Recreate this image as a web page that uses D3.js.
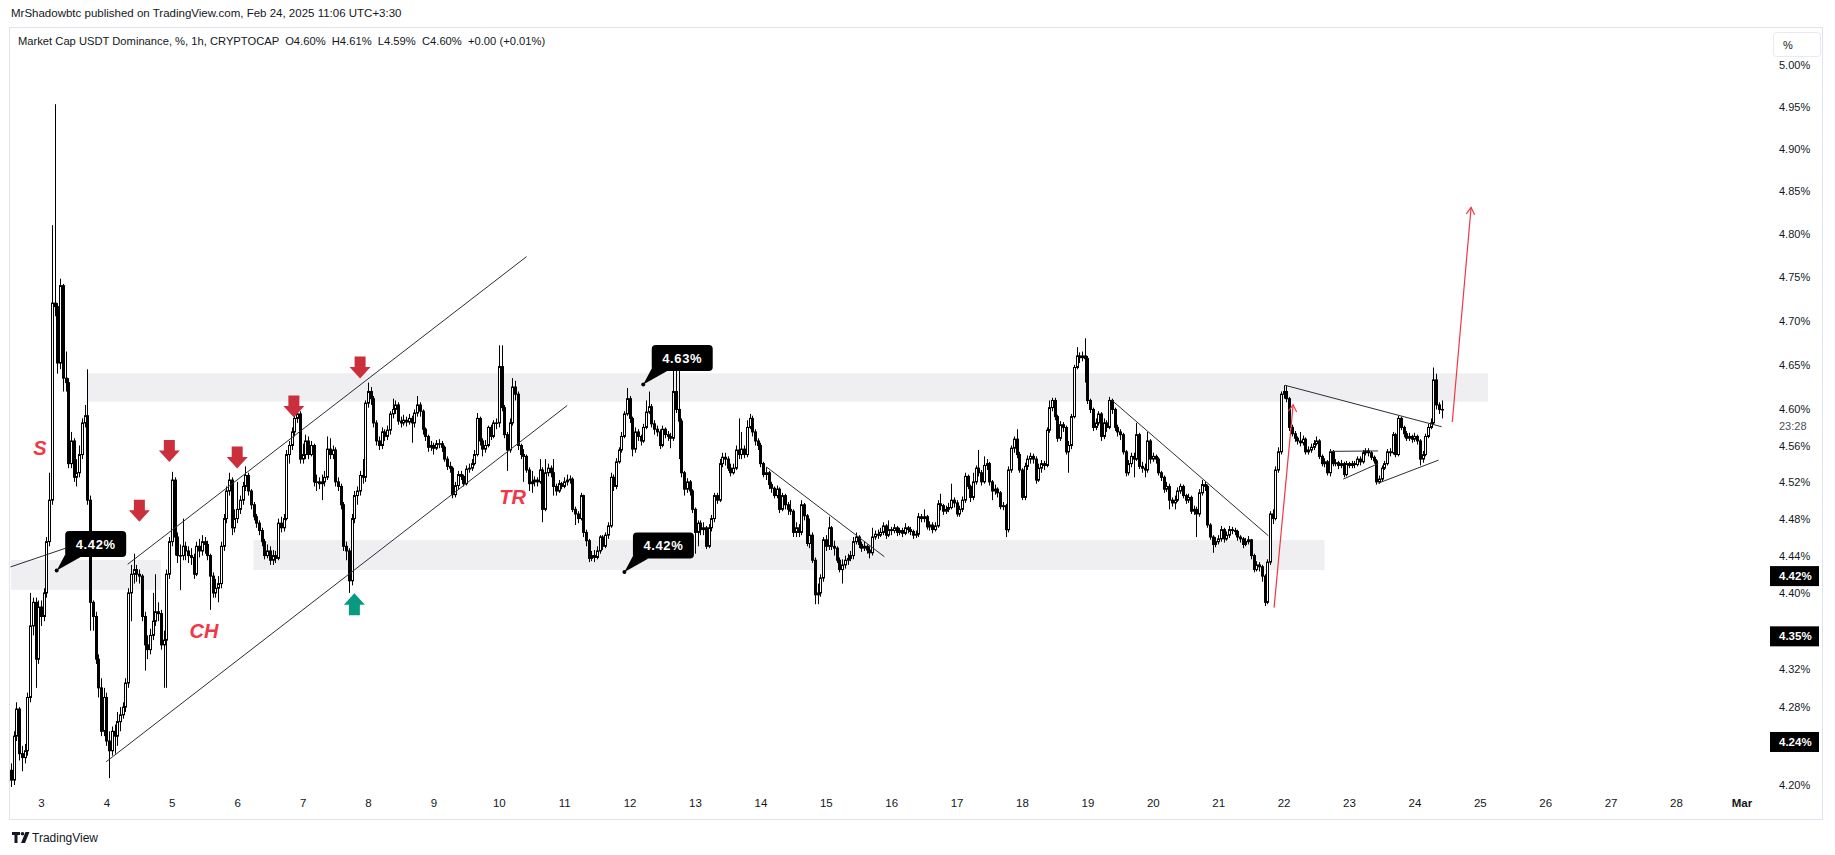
<!DOCTYPE html>
<html>
<head>
<meta charset="utf-8">
<script src="https://cdn.jsdelivr.net/npm/d3@7"></script>
<style>
  body { margin: 0; background: #fff; }
  svg { display: block; }
  text { font-family: "Liberation Sans", Arial, sans-serif; }
</style>
</head>
<body>
<svg id="chart" width="1835" height="855"></svg>
<script>
// USDT dominance, 1h candles, first candle = Feb 2 13:00 (hour -11 from Feb 3 00:00)
var firstHour = -11;
var firstOpen = 4.215;

var closes = [
  4.205,4.250,4.278,4.232,4.228,4.235,4.290,4.365,4.390,4.330,4.385,
  4.375,4.400,4.455,4.500,4.720,4.716,4.652,4.740,4.635,4.630,4.540,4.565,4.525,4.530,4.550,4.585,4.593,4.500,4.390,4.375,4.330,4.300,4.255,4.290,
  4.245,4.235,4.255,4.250,4.265,4.272,4.280,4.305,4.400,4.420,4.425,4.420,4.418,4.375,4.345,4.340,4.355,4.370,4.380,4.378,4.345,4.350,4.420,4.455,
  4.522,4.460,4.440,4.440,4.450,4.445,4.440,4.438,4.420,4.450,4.445,4.455,4.452,4.440,4.418,4.400,4.405,4.410,4.450,4.480,4.510,4.522,4.470,4.480,
  4.490,4.500,4.515,4.527,4.510,4.495,4.482,4.475,4.467,4.455,4.440,4.445,4.435,4.440,4.437,4.475,4.470,4.480,4.550,4.560,4.575,4.590,4.595,4.545,
  4.550,4.565,4.550,4.560,4.520,4.520,4.518,4.520,4.525,4.556,4.550,4.555,4.520,4.515,4.495,4.450,4.445,4.413,4.480,4.505,4.510,4.527,4.525,4.607,
  4.620,4.612,4.585,4.565,4.560,4.575,4.570,4.577,4.595,4.600,4.605,4.587,4.585,4.588,4.586,4.590,4.585,4.596,4.605,4.598,4.578,4.570,4.558,4.560,
  4.557,4.562,4.562,4.558,4.545,4.537,4.535,4.506,4.516,4.528,4.526,4.518,4.534,4.535,4.540,4.550,4.590,4.565,4.556,4.560,4.580,4.570,4.585,4.585,
  4.648,4.602,4.572,4.555,4.585,4.625,4.617,4.560,4.550,4.548,4.533,4.518,4.520,4.522,4.520,4.533,4.490,4.530,4.535,4.530,4.515,4.510,4.518,4.515,
  4.520,4.522,4.523,4.490,4.485,4.480,4.505,4.465,4.456,4.437,4.440,4.438,4.445,4.460,4.450,4.462,4.472,4.525,4.515,4.542,4.555,4.570,4.595,4.612,
  4.590,4.556,4.575,4.570,4.565,4.580,4.597,4.603,4.584,4.578,4.575,4.560,4.578,4.572,4.570,4.568,4.620,4.600,4.587,4.530,4.512,4.520,4.510,4.490,
  4.465,4.475,4.468,4.470,4.450,4.470,4.480,4.505,4.500,4.540,4.547,4.545,4.535,4.530,4.535,4.555,4.550,4.556,4.550,4.580,4.590,4.575,4.565,4.560,
  4.540,4.528,4.530,4.517,4.513,4.505,4.512,4.490,4.505,4.495,4.490,4.488,4.465,4.470,4.465,4.495,4.483,4.453,4.462,4.435,4.398,4.400,4.416,4.457,
  4.450,4.470,4.450,4.448,4.435,4.425,4.430,4.435,4.437,4.440,4.455,4.460,4.452,4.448,4.450,4.446,4.443,4.460,4.463,4.462,4.465,4.472,4.462,4.468,
  4.467,4.470,4.465,4.467,4.464,4.470,4.468,4.466,4.462,4.463,4.482,4.480,4.482,4.471,4.473,4.468,4.472,4.496,4.494,4.488,4.490,4.492,4.500,4.497,
  4.485,4.490,4.500,4.526,4.515,4.503,4.520,4.535,4.530,4.520,4.538,4.540,4.520,4.510,4.512,4.508,4.493,4.494,4.468,4.533,4.557,4.567,4.550,4.533,
  4.503,4.537,4.545,4.548,4.545,4.522,4.535,4.540,4.538,4.577,4.602,4.610,4.592,4.568,4.583,4.580,4.553,4.560,4.592,4.647,4.660,4.658,4.660,4.657,
  4.610,4.600,4.580,4.585,4.595,4.570,4.585,4.580,4.610,4.600,4.580,4.575,4.572,4.553,4.530,4.540,4.548,4.545,4.572,4.537,4.535,4.533,4.565,4.545,
  4.548,4.545,4.530,4.525,4.512,4.515,4.500,4.497,4.500,4.510,4.515,4.505,4.500,4.503,4.488,4.490,4.485,4.508,4.517,4.515,4.473,4.460,4.452,4.455,
  4.458,4.468,4.458,4.462,4.468,4.467,4.466,4.460,4.458,4.452,4.455,4.457,4.440,4.425,4.430,4.428,4.418,4.390,4.433,4.485,4.480,4.533,4.553,4.617,
  4.620,4.612,4.580,4.573,4.568,4.565,4.563,4.567,4.553,4.555,4.558,4.562,4.565,4.548,4.540,4.542,4.530,4.553,4.540,4.541,4.538,4.540,4.528,4.540,
  4.538,4.540,4.539,4.545,4.542,4.552,4.554,4.552,4.547,4.543,4.520,4.523,4.535,4.540,4.553,4.552,4.572,4.550,4.590,4.580,4.573,4.568,4.570,4.567,
  4.570,4.565,4.545,4.550,4.570,4.580,4.585,4.633,4.605,4.600,4.600
];

var highs = [
  4.222,4.255,4.285,4.280,4.240,4.242,4.295,4.400,4.395,4.395,4.392,
  4.392,4.405,4.460,4.530,4.810,4.953,4.720,4.748,4.742,4.665,4.635,4.575,4.568,4.545,4.560,4.590,4.605,4.645,4.505,4.392,4.380,4.335,4.310,4.300,
  4.295,4.255,4.260,4.262,4.275,4.280,4.285,4.310,4.405,4.430,4.442,4.430,4.425,4.420,4.380,4.355,4.362,4.400,4.420,4.390,4.382,4.360,4.425,4.460,
  4.531,4.525,4.465,4.452,4.480,4.455,4.450,4.448,4.442,4.455,4.458,4.462,4.460,4.456,4.442,4.422,4.415,4.418,4.455,4.485,4.515,4.530,4.525,4.490,
  4.520,4.505,4.520,4.537,4.530,4.512,4.498,4.485,4.478,4.470,4.458,4.452,4.450,4.446,4.445,4.480,4.482,4.485,4.555,4.565,4.580,4.595,4.600,4.598,
  4.562,4.572,4.570,4.565,4.562,4.528,4.525,4.528,4.532,4.570,4.568,4.560,4.558,4.525,4.518,4.498,4.455,4.448,4.485,4.510,4.515,4.532,4.545,4.610,
  4.630,4.625,4.615,4.588,4.570,4.580,4.578,4.582,4.598,4.612,4.610,4.608,4.592,4.594,4.592,4.595,4.593,4.600,4.615,4.608,4.600,4.580,4.572,4.565,
  4.563,4.566,4.567,4.565,4.560,4.548,4.542,4.537,4.520,4.532,4.532,4.528,4.538,4.540,4.545,4.555,4.596,4.592,4.568,4.566,4.582,4.583,4.588,4.590,
  4.672,4.672,4.605,4.575,4.590,4.635,4.632,4.620,4.562,4.556,4.550,4.536,4.532,4.526,4.525,4.545,4.536,4.545,4.540,4.538,4.545,4.518,4.522,4.520,
  4.525,4.528,4.527,4.525,4.493,4.488,4.508,4.506,4.468,4.458,4.445,4.446,4.450,4.462,4.462,4.465,4.476,4.530,4.528,4.546,4.558,4.575,4.598,4.624,
  4.615,4.592,4.580,4.578,4.572,4.584,4.610,4.620,4.606,4.588,4.582,4.578,4.582,4.580,4.576,4.574,4.645,4.645,4.655,4.590,4.532,4.524,4.522,4.512,
  4.492,4.478,4.478,4.476,4.472,4.474,4.484,4.508,4.508,4.545,4.552,4.552,4.548,4.540,4.540,4.560,4.590,4.575,4.560,4.588,4.595,4.593,4.578,4.568,
  4.563,4.542,4.536,4.532,4.520,4.515,4.516,4.514,4.508,4.507,4.498,4.500,4.490,4.476,4.474,4.500,4.497,4.485,4.480,4.465,4.438,4.410,4.420,4.460,
  4.462,4.482,4.472,4.456,4.450,4.438,4.436,4.440,4.442,4.445,4.460,4.465,4.462,4.455,4.455,4.452,4.450,4.470,4.467,4.468,4.470,4.476,4.474,4.478,
  4.471,4.474,4.472,4.470,4.470,4.475,4.472,4.471,4.468,4.467,4.486,4.485,4.490,4.484,4.477,4.476,4.476,4.500,4.507,4.496,4.494,4.497,4.518,4.503,
  4.500,4.494,4.504,4.530,4.528,4.517,4.530,4.538,4.555,4.533,4.548,4.545,4.542,4.522,4.517,4.514,4.510,4.498,4.496,4.537,4.560,4.570,4.578,4.553,
  4.535,4.541,4.549,4.552,4.551,4.548,4.540,4.544,4.543,4.580,4.610,4.613,4.613,4.594,4.587,4.586,4.582,4.565,4.595,4.650,4.670,4.664,4.665,4.680,
  4.660,4.612,4.602,4.590,4.598,4.597,4.590,4.588,4.614,4.612,4.602,4.583,4.578,4.574,4.555,4.544,4.552,4.552,4.585,4.574,4.542,4.540,4.575,4.567,
  4.552,4.550,4.547,4.532,4.527,4.520,4.518,4.503,4.505,4.514,4.518,4.517,4.507,4.507,4.505,4.494,4.493,4.512,4.522,4.520,4.517,4.475,4.462,4.460,
  4.462,4.472,4.470,4.466,4.472,4.471,4.470,4.468,4.462,4.460,4.459,4.461,4.458,4.442,4.434,4.433,4.430,4.420,4.436,4.488,4.490,4.537,4.558,4.620,
  4.627,4.627,4.614,4.583,4.576,4.570,4.575,4.571,4.569,4.559,4.562,4.566,4.570,4.567,4.550,4.546,4.544,4.556,4.555,4.545,4.543,4.544,4.542,4.543,
  4.542,4.543,4.543,4.548,4.548,4.555,4.557,4.557,4.554,4.549,4.545,4.527,4.538,4.543,4.556,4.557,4.575,4.574,4.593,4.592,4.582,4.576,4.574,4.572,
  4.574,4.572,4.567,4.554,4.573,4.584,4.590,4.647,4.640,4.608,4.610
];

var lows = [
  4.198,4.200,4.245,4.225,4.214,4.222,4.230,4.285,4.355,4.300,4.325,
  4.365,4.370,4.395,4.450,4.495,4.705,4.640,4.645,4.620,4.620,4.535,4.535,4.520,4.515,4.525,4.545,4.580,4.495,4.360,4.360,4.325,4.290,4.250,4.250,
  4.240,4.207,4.230,4.232,4.240,4.255,4.268,4.275,4.300,4.370,4.410,4.412,4.410,4.370,4.318,4.330,4.335,4.350,4.365,4.370,4.340,4.300,4.300,4.415,
  4.450,4.440,4.432,4.403,4.435,4.435,4.432,4.430,4.415,4.418,4.438,4.440,4.442,4.435,4.382,4.395,4.395,4.390,4.405,4.445,4.475,4.505,4.462,4.465,
  4.475,4.485,4.495,4.510,4.505,4.490,4.478,4.470,4.462,4.450,4.436,4.437,4.430,4.430,4.432,4.435,4.465,4.466,4.478,4.540,4.555,4.570,4.585,4.540,
  4.540,4.545,4.545,4.548,4.515,4.510,4.512,4.500,4.515,4.522,4.545,4.545,4.515,4.510,4.490,4.445,4.435,4.400,4.408,4.475,4.495,4.505,4.518,4.520,
  4.602,4.605,4.580,4.560,4.555,4.556,4.565,4.566,4.572,4.590,4.595,4.583,4.580,4.582,4.581,4.583,4.563,4.580,4.592,4.592,4.572,4.565,4.553,4.554,
  4.550,4.555,4.557,4.553,4.542,4.533,4.530,4.502,4.503,4.512,4.522,4.515,4.516,4.530,4.532,4.538,4.548,4.560,4.548,4.552,4.558,4.566,4.568,4.578,
  4.580,4.598,4.568,4.532,4.552,4.582,4.610,4.555,4.545,4.520,4.530,4.510,4.508,4.515,4.515,4.518,4.476,4.488,4.526,4.525,4.505,4.505,4.508,4.512,
  4.513,4.516,4.518,4.487,4.473,4.475,4.478,4.460,4.450,4.433,4.434,4.433,4.436,4.442,4.446,4.448,4.458,4.470,4.510,4.512,4.540,4.552,4.568,4.593,
  4.585,4.548,4.552,4.565,4.560,4.563,4.578,4.595,4.580,4.572,4.570,4.556,4.558,4.568,4.565,4.557,4.565,4.596,4.545,4.525,4.505,4.508,4.505,4.486,
  4.442,4.450,4.462,4.462,4.447,4.448,4.466,4.476,4.496,4.498,4.536,4.538,4.532,4.526,4.528,4.533,4.545,4.545,4.546,4.547,4.578,4.570,4.560,4.555,
  4.536,4.525,4.522,4.512,4.508,4.502,4.502,4.486,4.488,4.490,4.484,4.484,4.460,4.460,4.460,4.462,4.478,4.450,4.448,4.432,4.388,4.388,4.396,4.412,
  4.445,4.446,4.446,4.440,4.432,4.422,4.410,4.426,4.430,4.434,4.436,4.452,4.448,4.444,4.445,4.442,4.437,4.440,4.457,4.458,4.460,4.462,4.458,4.460,
  4.462,4.464,4.461,4.462,4.460,4.462,4.464,4.462,4.458,4.459,4.460,4.476,4.476,4.468,4.467,4.464,4.466,4.470,4.489,4.484,4.485,4.487,4.490,4.492,
  4.482,4.482,4.487,4.497,4.512,4.498,4.500,4.517,4.526,4.516,4.518,4.533,4.516,4.500,4.506,4.503,4.490,4.489,4.460,4.465,4.530,4.552,4.546,4.530,
  4.500,4.500,4.533,4.540,4.540,4.518,4.520,4.530,4.533,4.536,4.574,4.598,4.588,4.564,4.565,4.575,4.550,4.530,4.556,4.590,4.645,4.652,4.654,4.630,
  4.606,4.596,4.576,4.577,4.582,4.565,4.567,4.575,4.578,4.595,4.576,4.570,4.566,4.550,4.526,4.527,4.536,4.525,4.543,4.534,4.530,4.525,4.530,4.540,
  4.542,4.540,4.527,4.521,4.508,4.509,4.490,4.493,4.490,4.498,4.507,4.502,4.496,4.497,4.485,4.484,4.460,4.482,4.505,4.510,4.470,4.457,4.443,4.449,
  4.452,4.455,4.454,4.456,4.459,4.463,4.462,4.456,4.454,4.448,4.450,4.452,4.436,4.422,4.423,4.423,4.412,4.386,4.388,4.430,4.474,4.478,4.530,4.550,
  4.612,4.608,4.576,4.570,4.564,4.561,4.559,4.560,4.550,4.550,4.552,4.555,4.560,4.545,4.537,4.536,4.527,4.526,4.537,4.537,4.534,4.535,4.525,4.526,
  4.535,4.535,4.535,4.537,4.538,4.540,4.549,4.548,4.544,4.540,4.517,4.518,4.520,4.533,4.538,4.548,4.550,4.547,4.548,4.577,4.569,4.565,4.565,4.563,
  4.564,4.561,4.538,4.541,4.548,4.568,4.578,4.583,4.600,4.595,4.590
];

// price scale ticks (right axis) and day ticks (bottom axis)
var priceTicks = [5.00,4.95,4.90,4.85,4.80,4.75,4.70,4.65,4.56,4.52,4.48,4.44,4.40,4.32,4.28,4.20];
var dayTicks = [3,4,5,6,7,8,9,10,11,12,13,14,15,16,17,18,19,20,21,22,23,24,25,26,27,28,29];
var lastPrice = 4.60;
var countdown = "23:28";
var markedPrices = [4.418, 4.354, 4.244];
var markedLabels = ["4.42%", "4.35%", "4.24%"];

// drawings, in hours from Feb 3 00:00 and price
var zones = [
  [17, 531, 4.6088, 4.6405],
  [78, 471, 4.4245, 4.4567],
  [-11, 44, 4.4033, 4.4353]
];
var trendLines = [
  [-11.2, 4.4278, 8.9, 4.4478],
  [31.8, 4.4306, 178.2, 4.7735],
  [23.9, 4.2237, 193.1, 4.6044],
  [266.3, 4.5362, 309.5, 4.4388],
  [392.9, 4.6104, 450.4, 4.4614],
  [456.5, 4.6270, 514.0, 4.5808],
  [490.7, 4.5185, 512.8, 4.5438],
  [477.9, 4.5230, 490.7, 4.5400]
];
var flatLines = [[473.0, 4.5535, 490.7, 4.5540]];
var arrowLines = [
  [452.5, 4.3844, 459.5, 4.6052],
  [517.9, 4.5860, 524.8, 4.8306]
];
var downMarks = [[36.1, 4.4766], [47.1, 4.5417], [72.0, 4.5346], [92.8, 4.5910], [117.1, 4.6345]];
var upMarks = [[115.0, 4.3997]];
var callouts = [[5.76, 4.424, "4.42%"], [221.0, 4.628, "4.63%"], [214.1, 4.4225, "4.42%"]];
var notes = [[-0.4, 4.557, "S"], [59.8, 4.360, "CH"], [173.1, 4.504, "TR"]];

var svg = d3.select("#chart");
var feb3 = Date.UTC(2025, 1, 3);
var HOUR = 3600 * 1000;
function hourDate(h) { return new Date(feb3 + h * HOUR); }

var x = d3.scaleUtc()
  .domain([new Date(feb3), new Date(Date.UTC(2025, 2, 1))])
  .range([41, 1741.4]);
var y = d3.scaleLog().domain([4.20, 4.95]).range([785, 106.7]);
var xh = function (h) { return x(hourDate(h)); };

// header
svg.append("text").attr("x", 11).attr("y", 17)
  .style("font-size", "11.5px").attr("fill", "#131722")
  .text("MrShadowbtc published on TradingView.com, Feb 24, 2025 11:06 UTC+3:30");

// chart frame
svg.append("rect").attr("x", 9.5).attr("y", 27.5).attr("width", 1813).attr("height", 792)
  .attr("fill", "none").attr("stroke", "#e0e3eb");

var defs = svg.append("defs");
defs.append("clipPath").attr("id", "plotclip")
  .append("rect").attr("x", 10).attr("y", 28).attr("width", 1762).attr("height", 764);

var plot = svg.append("g").attr("clip-path", "url(#plotclip)");

// zones
plot.selectAll("rect.zone").data(zones).enter().append("rect")
  .attr("class", "zone")
  .attr("x", function (d) { return xh(d[0]); })
  .attr("width", function (d) { return xh(d[1]) - xh(d[0]); })
  .attr("y", function (d) { return y(d[3]); })
  .attr("height", function (d) { return y(d[2]) - y(d[3]); })
  .attr("fill", "#efeff1");

// candles
var candles = closes.map(function (c, i) {
  return { h: firstHour + i, o: i === 0 ? firstOpen : closes[i - 1], c: c, hi: highs[i], lo: lows[i] };
});

plot.selectAll("line.wick").data(candles).enter().append("line")
  .attr("class", "wick")
  .attr("x1", function (d) { return Math.round(xh(d.h)) + 0.5; })
  .attr("x2", function (d) { return Math.round(xh(d.h)) + 0.5; })
  .attr("y1", function (d) { return y(Math.max(d.hi, d.o, d.c)); })
  .attr("y2", function (d) { return y(Math.min(d.lo, d.o, d.c)); })
  .attr("stroke", "#000").attr("stroke-width", 1);

plot.selectAll("rect.body").data(candles).enter().append("rect")
  .attr("class", "body")
  .attr("x", function (d) { return Math.round(xh(d.h)) - 0.5; })
  .attr("width", 2)
  .attr("y", function (d) { return y(Math.max(d.o, d.c)); })
  .attr("height", function (d) { return Math.max(0.6, y(Math.min(d.o, d.c)) - y(Math.max(d.o, d.c))); })
  .attr("fill", function (d) { return d.c >= d.o ? "#fff" : "#000"; })
  .attr("stroke", "#000").attr("stroke-width", 1);

// trend lines
plot.selectAll("line.trend").data(trendLines.concat(flatLines)).enter().append("line")
  .attr("class", "trend")
  .attr("x1", function (d) { return xh(d[0]); }).attr("y1", function (d) { return y(d[1]); })
  .attr("x2", function (d) { return xh(d[2]); }).attr("y2", function (d) { return y(d[3]); })
  .attr("stroke", "#2a2e39").attr("stroke-width", 1);

// red arrow lines
var arr = plot.selectAll("g.arrowline").data(arrowLines).enter().append("g").attr("class", "arrowline");
arr.append("line")
  .attr("x1", function (d) { return xh(d[0]); }).attr("y1", function (d) { return y(d[1]); })
  .attr("x2", function (d) { return xh(d[2]); }).attr("y2", function (d) { return y(d[3]); })
  .attr("stroke", "#f23645").attr("stroke-width", 1.2);
arr.append("path")
  .attr("d", function (d) {
    var x1 = xh(d[0]), y1 = y(d[1]), x2 = xh(d[2]), y2 = y(d[3]);
    var a = Math.atan2(y2 - y1, x2 - x1), L = 8, s = 0.55;
    return "M" + (x2 - L * Math.cos(a - s)) + "," + (y2 - L * Math.sin(a - s)) +
      "L" + x2 + "," + y2 +
      "L" + (x2 - L * Math.cos(a + s)) + "," + (y2 - L * Math.sin(a + s));
  })
  .attr("fill", "none").attr("stroke", "#f23645").attr("stroke-width", 1.2);

// arrow marks
plot.selectAll("path.down").data(downMarks).enter().append("path")
  .attr("class", "down")
  .attr("transform", function (d) { return "translate(" + xh(d[0]) + "," + y(d[1]) + ")"; })
  .attr("d", "M0,0L-10.5,-11.5L-5.5,-11.5L-5.5,-22L5.5,-22L5.5,-11.5L10.5,-11.5Z")
  .attr("fill", "#cc2f3c");
plot.selectAll("path.up").data(upMarks).enter().append("path")
  .attr("class", "up")
  .attr("transform", function (d) { return "translate(" + xh(d[0]) + "," + y(d[1]) + ")"; })
  .attr("d", "M0,0L-10.5,11.5L-5.5,11.5L-5.5,22L5.5,22L5.5,11.5L10.5,11.5Z")
  .attr("fill", "#089981");

// pattern notes
plot.selectAll("text.note").data(notes).enter().append("text")
  .attr("class", "note")
  .attr("x", function (d) { return xh(d[0]); })
  .attr("y", function (d) { return y(d[1]); })
  .attr("dy", "0.35em").attr("text-anchor", "middle")
  .style("font-size", "20px").style("font-style", "italic").style("font-weight", "bold")
  .attr("fill", "#f23645")
  .text(function (d) { return d[2]; });

// callouts
var co = plot.selectAll("g.callout").data(callouts).enter().append("g")
  .attr("class", "callout")
  .attr("transform", function (d) { return "translate(" + xh(d[0]) + "," + y(d[1]) + ")"; });
co.append("path").attr("d", "M0,0L8.5,-16L24,-13.5Z").attr("fill", "#000");
co.append("circle").attr("r", 2).attr("fill", "#000");
co.append("rect").attr("x", 8.5).attr("y", -39.5).attr("width", 61).attr("height", 26).attr("rx", 4)
  .attr("fill", "#000");
co.append("text").attr("x", 39).attr("y", -26.5).attr("dy", "0.36em").attr("text-anchor", "middle")
  .style("font-size", "13px").style("font-weight", "bold").style("letter-spacing", "0.6px")
  .attr("fill", "#fff").text(function (d) { return d[2]; });

// legend
svg.append("text").attr("x", 18).attr("y", 45)
  .style("font-size", "11.2px").attr("fill", "#131722").attr("xml:space", "preserve")
  .text("Market Cap USDT Dominance, %, 1h, CRYPTOCAP  O4.60%  H4.61%  L4.59%  C4.60%  +0.00 (+0.01%)");

// price axis
var yAxisG = svg.append("g").attr("transform", "translate(1776,0)");
yAxisG.append("clipPath").attr("id", "axclip").append("rect")
  .attr("x", -5).attr("y", 58).attr("width", 60).attr("height", 740);
var yAxis = yAxisG.append("g").attr("clip-path", "url(#axclip)")
  .call(d3.axisRight(y).tickValues(priceTicks).tickSize(0).tickPadding(3)
    .tickFormat(function (d) { return d.toFixed(2) + "%"; }));
yAxis.select(".domain").remove();
yAxis.selectAll("text").style("font-size", "11px").attr("fill", "#131722")
  .style("font-family", "'Liberation Sans', Arial, sans-serif");

yAxisG.append("text").attr("x", 3).attr("y", y(lastPrice)).attr("dy", "0.35em")
  .style("font-size", "11px").attr("fill", "#131722").text(lastPrice.toFixed(2) + "%");
yAxisG.append("text").attr("x", 3).attr("y", y(lastPrice) + 17).attr("dy", "0.35em")
  .style("font-size", "11px").attr("fill", "#4a4e59").text(countdown);

var ml = yAxisG.selectAll("g.mark").data(markedPrices).enter().append("g")
  .attr("transform", function (d) { return "translate(0," + y(d) + ")"; });
ml.append("rect").attr("x", -6).attr("y", -10).attr("width", 49).attr("height", 20).attr("fill", "#000");
ml.append("text").attr("x", 3).attr("dy", "0.36em").style("font-size", "11.5px").style("font-weight", "bold")
  .attr("fill", "#fff").text(function (d, i) { return markedLabels[i]; });

// % unit box
svg.append("rect").attr("x", 1773.5).attr("y", 32.5).attr("width", 47).attr("height", 24).attr("rx", 3)
  .attr("fill", "#fff").attr("stroke", "#e8eaef");
svg.append("text").attr("x", 1783).attr("y", 45).attr("dy", "0.35em")
  .style("font-size", "11px").attr("fill", "#131722").text("%");

// time axis
var xAxis = svg.append("g").attr("transform", "translate(0,796)")
  .call(d3.axisBottom(x).tickValues(dayTicks.map(function (d) { return new Date(Date.UTC(2025, 1, d)); }))
    .tickSize(0).tickPadding(3)
    .tickFormat(function (d) { return d.getUTCDate() === 1 ? "Mar" : String(d.getUTCDate()); }));
xAxis.select(".domain").remove();
xAxis.selectAll("text").style("font-size", "11.5px").attr("fill", "#131722")
  .style("font-family", "'Liberation Sans', Arial, sans-serif")
  .style("font-weight", function (d) { return d.getUTCDate() === 1 ? "bold" : "normal"; });

// footer logo
var logo = svg.append("g").attr("transform", "translate(12,832)");
logo.append("path").attr("d", "M0,0H8V3H5.5V11H2.5V3H0Z").attr("fill", "#131722");
logo.append("circle").attr("cx", 10.5).attr("cy", 1.8).attr("r", 1.8).attr("fill", "#131722");
logo.append("path").attr("d", "M13.5,0H17.5L13,11H9Z").attr("fill", "#131722");
svg.append("text").attr("x", 32).attr("y", 842)
  .style("font-size", "12px").attr("fill", "#131722").text("TradingView");
</script>
</body>
</html>
